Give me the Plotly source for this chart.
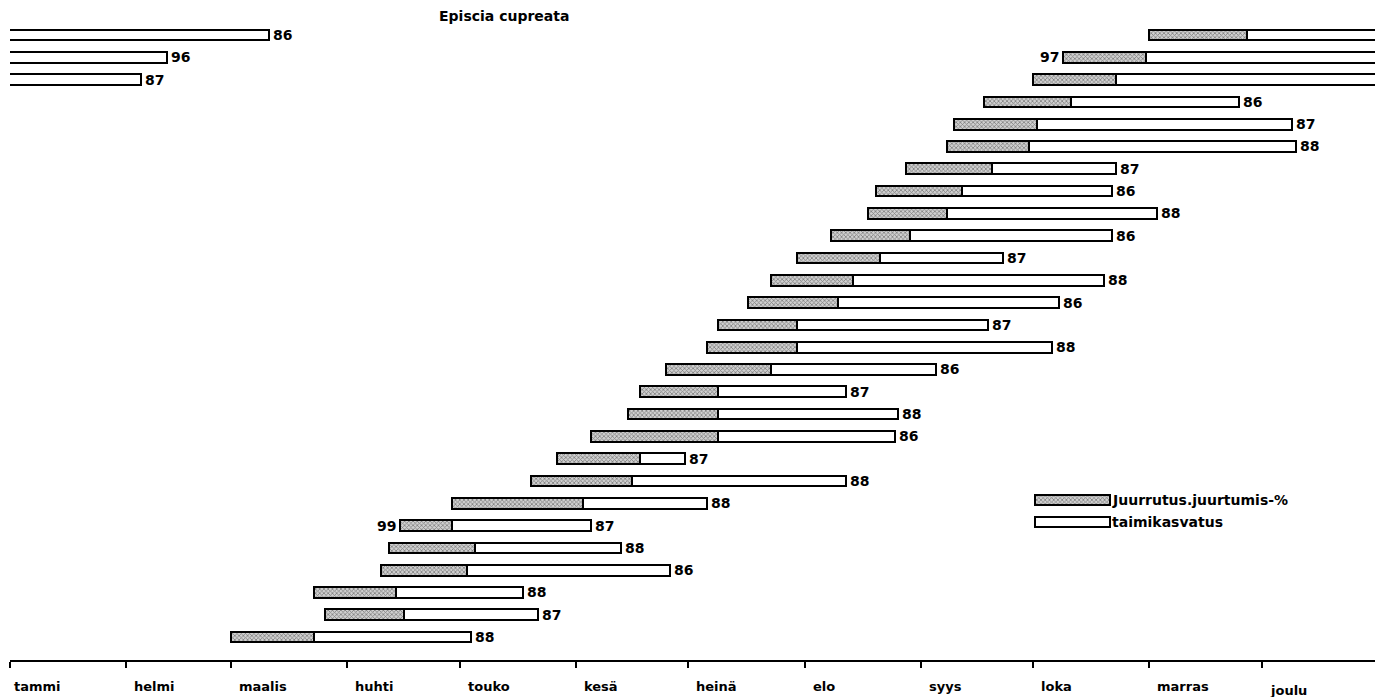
import plotly.graph_objects as go

# ---------------- data (day of year; values >365 continue into the next year) -------------
months = ["tammi", "helmi", "maalis", "huhti", "touko", "kesä",
          "heinä", "elo", "syys", "loka", "marras", "joulu"]
month_days = [31, 28, 31, 30, 31, 30, 31, 31, 30, 31, 30, 31]

root_start = [304, 281, 273, 260, 252, 250, 239, 231, 229, 219,
              210, 203, 197, 189, 186, 175, 168, 165, 155, 146,
              139, 118, 104, 101, 99, 81, 84, 59]
root_end = [330, 303, 295, 283, 274, 272, 262, 254, 250, 240,
            232, 225, 221, 210, 210, 203, 189, 189, 189, 168,
            166, 153, 118, 124, 122, 103, 105, 81]
growth_end = [434, 407, 400, 328, 342, 343, 295, 294, 306, 294,
              265, 292, 280, 261, 278, 247, 223, 237, 236, 180,
              223, 186, 155, 163, 176, 137, 141, 123]
end_labels = ["86", "96", "87", "86", "87", "88", "87", "86", "88", "86",
              "87", "88", "86", "87", "88", "86", "87", "88", "86", "87",
              "88", "88", "87", "88", "86", "88", "87", "88"]
start_labels = ["", "97", "", "", "", "", "", "", "", "",
                "", "", "", "", "", "", "", "", "", "",
                "", "", "99", "", "", "", "", ""]

title = "Episcia cupreata"
legend_labels = ["Juurrutus.juurtumis-%", "taimikasvatus"]

# ---------------- styling -------------
month_starts = [0]
for d in month_days:
    month_starts.append(month_starts[-1] + d)
YEAR = month_starts[-1]

OFF = 8                      # page body margin
W, H = 1383 - OFF, 697 - OFF
ML, MR, MT, MB = 2, 0, 4, 37
PX_PER_DAY = 1368.0 / YEAR
X_MAX = (W - ML - MR) / PX_PER_DAY
ROW_PX = 22.3
Y_TOP = -1.03
Y_BOT = Y_TOP + (H - MT - MB) / ROW_PX
BAR_W = 0.48
FONT = "DejaVu Sans"

hatch = dict(color="#bdbdbd",
             pattern=dict(shape="x", fgcolor="#2e2e2e", bgcolor="#cfcfcf",
                          size=3, solidity=0.45),
             line=dict(color="black", width=2))
plain = dict(color="white", line=dict(color="black", width=2))

rows = list(range(len(root_start)))

fig = go.Figure()

# rooting segments
fig.add_trace(go.Bar(
    y=rows, base=root_start,
    x=[e - s for s, e in zip(root_start, root_end)],
    orientation="h", width=BAR_W, marker=hatch, showlegend=False,
    hoverinfo="skip"))

# growing segments (wrapping over the year end)
ob_y, ob_base, ob_len = [], [], []
lab_x = []
for r, s, e in zip(rows, root_end, growth_end):
    if e <= YEAR:
        ob_y.append(r); ob_base.append(s); ob_len.append(e - s)
        lab_x.append(e)
    else:
        ob_y.append(r); ob_base.append(s); ob_len.append(X_MAX + 15 - s)
        ob_y.append(r); ob_base.append(-15); ob_len.append(e - YEAR + 15)
        lab_x.append(e - YEAR)
fig.add_trace(go.Bar(
    y=ob_y, base=ob_base, x=ob_len, orientation="h", width=BAR_W,
    marker=plain, showlegend=False, hoverinfo="skip"))

annotations = []
label_font = dict(family=FONT, size=14, color="black", weight="bold")

# end labels
for r, x, t in zip(rows, lab_x, end_labels):
    annotations.append(dict(x=x, y=r, xref="x", yref="y", text=t, showarrow=False,
                            xanchor="left", yanchor="middle", xshift=2,
                            font=label_font))
# start labels
for r, s, t in zip(rows, root_start, start_labels):
    if t:
        annotations.append(dict(x=s, y=r, xref="x", yref="y", text=t, showarrow=False,
                                xanchor="right", yanchor="middle", xshift=-2,
                                font=label_font))

# legend swatches
LEG_X0, LEG_LEN = 273.4, 20.1
LEG_ROWS = [20.85, 21.84]
fig.add_trace(go.Bar(y=[LEG_ROWS[0]], base=[LEG_X0], x=[LEG_LEN], orientation="h",
                     width=BAR_W, marker=hatch, showlegend=False, hoverinfo="skip"))
fig.add_trace(go.Bar(y=[LEG_ROWS[1]], base=[LEG_X0], x=[LEG_LEN], orientation="h",
                     width=BAR_W, marker=plain, showlegend=False, hoverinfo="skip"))

for lbl, ry in zip(legend_labels, LEG_ROWS):
    annotations.append(dict(x=LEG_X0 + LEG_LEN, y=ry, xref="x", yref="y",
                            text=lbl, showarrow=False, xanchor="left", yanchor="middle",
                            xshift=0,
                            font=dict(family=FONT, size=14, color="black", weight="bold")))

# month labels
for m, d0 in zip(months, month_starts[:-1]):
    annotations.append(dict(x=d0, y=0, xref="x", yref="paper", text=m,
                            showarrow=False, xanchor="left", yanchor="top",
                            xshift=6 if d0 > 0 else 2,
                            yshift=-17 if m != "joulu" else -21,
                            font=dict(family=FONT, size=13, color="black", weight="bold")))

annotations.append(dict(x=(503 - OFF) / W, y=1 - (12 - OFF) / H, xref="paper", yref="paper",
                        text=title, showarrow=False, xanchor="center", yanchor="middle",
                        font=dict(family=FONT, size=14, color="black", weight="bold")))

fig.update_layout(
    width=W, height=H,
    margin=dict(l=ML, r=MR, t=MT, b=MB),
    paper_bgcolor="white", plot_bgcolor="white",
    barmode="overlay", bargap=0,
    showlegend=False,
    annotations=annotations,
    xaxis=dict(range=[0, X_MAX], tickvals=month_starts,
               showticklabels=False, ticks="outside", ticklen=6, tickwidth=2,
               tickcolor="black", showline=True, linecolor="black", linewidth=2,
               showgrid=False, zeroline=False, fixedrange=True),
    yaxis=dict(range=[Y_BOT, Y_TOP], visible=False, showgrid=False,
               zeroline=False, fixedrange=True),
)

fig.write_html("out.html")
